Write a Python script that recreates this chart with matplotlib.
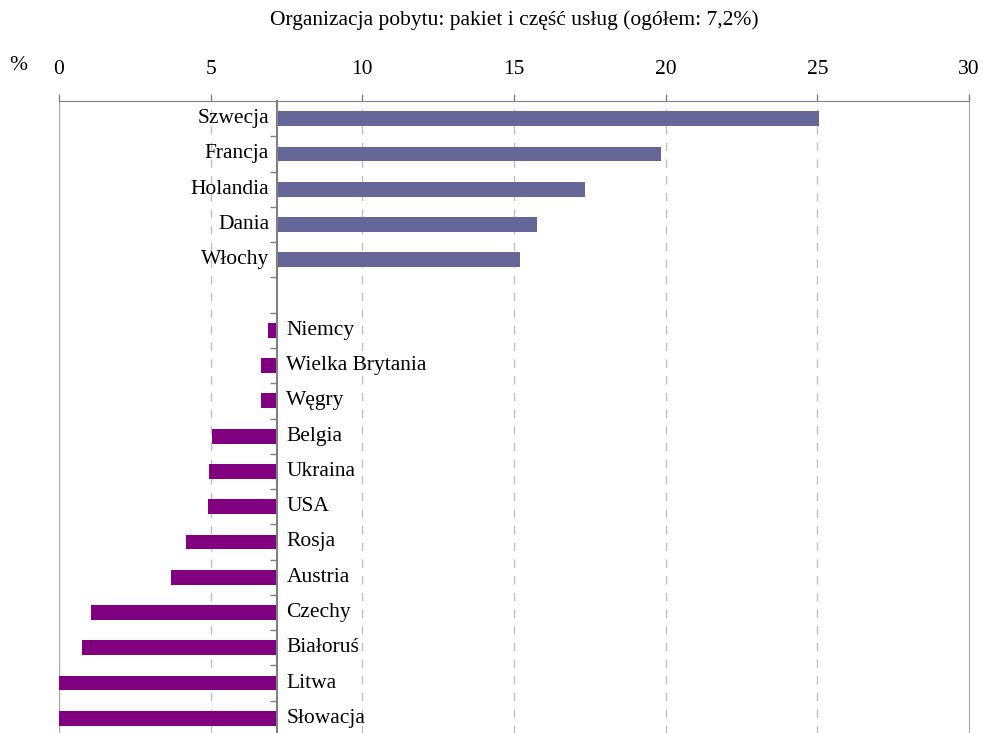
import numpy as np
import matplotlib
matplotlib.use('Agg')
import matplotlib.pyplot as plt

plt.rcParams['font.family'] = ['Liberation Serif', 'DejaVu Serif']

base = 7.2

top_names = ['Szwecja', 'Francja', 'Holandia', 'Dania', 'Włochy']
top_vals = [25.05, 19.85, 17.35, 15.75, 15.2]

low_names = ['Niemcy', 'Wielka Brytania', 'Węgry', 'Belgia', 'Ukraina', 'USA',
             'Rosja', 'Austria', 'Czechy', 'Białoruś', 'Litwa', 'Słowacja']
low_vals = [6.9, 6.65, 6.65, 5.05, 4.95, 4.9, 4.2, 3.7, 1.05, 0.75, 0.0, 0.0]

xticks = [0, 5, 10, 15, 20, 25, 30]

fs = 15.5

fig = plt.figure(figsize=(9.83, 7.33), dpi=100)
ax = fig.add_axes([59 / 983, -3 / 733, 910 / 983, 635 / 733])

top_pos = np.arange(len(top_names))
low_pos = np.arange(len(low_names)) + len(top_names) + 1
nslots = len(top_names) + 1 + len(low_names)

ax.barh(top_pos, np.array(top_vals) - base, left=base, height=0.42,
        color='#666699', zorder=3)
ax.barh(low_pos, np.array(low_vals) - base, left=base, height=0.42,
        color='#800080', zorder=3)

for p, n in zip(top_pos, top_names):
    ax.annotate(n, (base, p), xytext=(-6, 0), textcoords='offset points',
                ha='right', va='center', fontsize=fs, zorder=4)
for p, n in zip(low_pos, low_names):
    ax.annotate(n, (base, p), xytext=(6.5, 0), textcoords='offset points',
                ha='left', va='center', fontsize=fs, zorder=4)

ax.set_xlim(0, 30)
ax.set_ylim(nslots - 0.5, -0.5)

ax.xaxis.tick_top()
ax.set_xticks(xticks)
ax.set_xticklabels([str(t) for t in xticks])
ax.tick_params(axis='x', direction='out', length=5, width=1, color='#808080',
               labelsize=fs, pad=11)

for t in xticks[1:-1]:
    ax.axvline(t, color='#bfbfbf', lw=1, ls=(0, (6, 6)), zorder=1)
ax.axvline(0, color='#a6a6a6', lw=1, zorder=1)

ax.spines['left'].set_position(('data', base))
ax.spines['left'].set_color('#808080')
ax.spines['left'].set_linewidth(1.5)
ax.spines['left'].set_zorder(5)
ax.set_yticks(np.arange(nslots - 1) + 0.5)
ax.set_yticklabels([])
ax.tick_params(axis='y', direction='out', length=5, width=1, color='#808080')

ax.spines['top'].set_color('#808080')
ax.spines['right'].set_color('#a6a6a6')
ax.spines['bottom'].set_visible(False)

fig.text(18 / 983, 1 - 66 / 733, '%', ha='center', va='center', fontsize=fs)
fig.text(514 / 983, 1 - 20 / 733,
         'Organizacja pobytu: pakiet i część usług (ogółem: 7,2%)',
         ha='center', va='center', fontsize=fs)

fig.savefig('out.png', dpi=100)
